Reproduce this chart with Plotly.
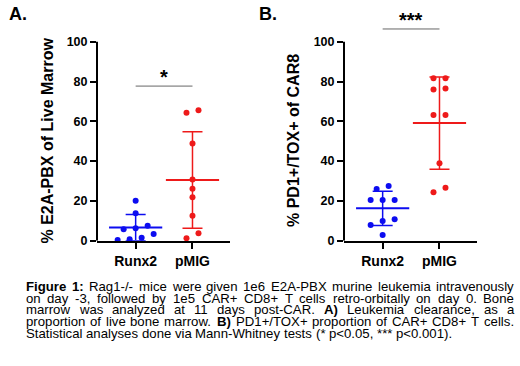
import numpy as np
import plotly.graph_objects as go

# ---------------- data ----------------
categories = ["Runx2", "pMIG"]
a_runx2 = [20.1, 13.8, 7.5, 6.2, 5.7, 3.4, 1.5, 0.7, 0.35]
a_pmig = [65.5, 64.3, 48.9, 30.7, 26.1, 21.8, 12.6, 3.7, 1.2]
b_runx2 = [27.5, 26.0, 20.5, 20.5, 20.5, 10.8, 9.9, 7.9, 2.9]
b_pmig = [81.6, 81.6, 76.5, 76.0, 63.2, 63.2, 38.9, 26.6, 24.3]
y_ticks = [0, 20, 40, 60, 80, 100]
a_title = "% E2A-PBX of Live Marrow"
b_title = "% PD1+/TOX+ of CAR8"
a_sig = "*"
b_sig = "***"
a_sig_level = 77.7
b_sig_level = 106.4
caption_lines = [
    "Figure 1: Rag1-/- mice were given 1e6 E2A-PBX murine leukemia intravenously",
    "on day -3, followed by 1e5 CAR+ CD8+ T cells retro-orbitally on day 0. Bone",
    "marrow was analyzed at 11 days post-CAR. A) Leukemia clearance, as a",
    "proportion of live bone marrow. B) PD1+/TOX+ proportion of CAR+ CD8+ T cells.",
    "Statistical analyses done via Mann-Whitney tests (* p<0.05, *** p<0.001).",
]
bold_tokens = {"Figure", "1:", "A)", "B)"}

# ---------------- style / geometry ----------------
W, H = 520, 366
BLUE = "#0c0cf0"
RED = "#ee1a1a"
FONT = "Liberation Sans, Arial, sans-serif"
XRANGE = [-0.68, 1.66]
YRANGE = [0, 118]
YDOM = [1 - 240.7 / H, 1 - 5.9 / H]
XDOM_A = [97 / W, 230 / W]
XDOM_B = [344 / W, 477 / W]

px_per_y = (YDOM[1] - YDOM[0]) * H / (YRANGE[1] - YRANGE[0])
px_per_x = (XDOM_A[1] - XDOM_A[0]) * W / (XRANGE[1] - XRANGE[0])


def swarm_offsets(vals, thresh=8.0, step=12.0):
    vals = np.asarray(vals, dtype=float)
    order = np.argsort(vals, kind="stable")
    rows = []
    for i in order:
        if rows and (vals[i] - vals[rows[-1][0]]) * px_per_y <= thresh:
            rows[-1].append(i)
        else:
            rows.append([i])
    offs = np.zeros(len(vals))
    for row in rows:
        n = len(row)
        for k, i in enumerate(row):
            offs[i] = (k - (n - 1) / 2) * step / px_per_x
    return offs


fig = go.Figure()

panels = [
    ("x", "y", [a_runx2, a_pmig]),
    ("x2", "y2", [b_runx2, b_pmig]),
]
colors = [BLUE, RED]

for xa, ya, groups in panels:
    for ci, vals in enumerate(groups):
        color = colors[ci]
        offs = swarm_offsets(vals)
        fig.add_trace(go.Scatter(
            x=ci + offs, y=vals, mode="markers",
            marker=dict(size=6, color=color),
            cliponaxis=False, xaxis=xa, yaxis=ya,
            showlegend=False, hoverinfo="skip"))
        m = float(np.mean(vals))
        sd = float(np.std(vals, ddof=1))
        fig.add_trace(go.Scatter(
            x=[ci], y=[m], mode="markers",
            marker=dict(symbol="line-ew", size=38, color=color,
                        line=dict(width=2, color=color)),
            error_y=dict(type="data", array=[sd], visible=True,
                         thickness=1.5, width=10, color=color),
            cliponaxis=True, xaxis=xa, yaxis=ya,
            showlegend=False, hoverinfo="skip"))


def xaxis_cfg(dom, anchor):
    return dict(domain=dom, range=XRANGE, anchor=anchor, automargin=False,
                tickvals=[0, 1], ticktext=categories,
                showline=True, linewidth=2, linecolor="black",
                ticks="outside", ticklen=6, tickwidth=2, tickcolor="black",
                tickfont=dict(family=FONT, size=14, color="black", weight="bold"),
                showgrid=False, zeroline=False, fixedrange=True)


def yaxis_cfg(anchor):
    return dict(domain=YDOM, range=YRANGE, anchor=anchor, automargin=False,
                tickvals=y_ticks, showline=False,
                ticks="outside", ticklen=6, tickwidth=2, tickcolor="black",
                tickfont=dict(family=FONT, size=12.5, color="black", weight="bold"),
                showgrid=False, zeroline=False, fixedrange=True)


shapes = []
annotations = []
for xa, ya, sig, lvl in [("x", "y", a_sig, a_sig_level), ("x2", "y2", b_sig, b_sig_level)]:
    # y axis line, from 0 up to the last tick only
    shapes.append(dict(type="line", xref=xa + " domain", yref=ya,
                       x0=0, x1=0, y0=y_ticks[0], y1=y_ticks[-1],
                       line=dict(color="black", width=2)))
    # significance bar
    shapes.append(dict(type="line", xref=xa, yref=ya, x0=0, x1=1, y0=lvl, y1=lvl,
                       line=dict(color="#666666", width=1)))
    annotations.append(dict(xref=xa, yref=ya, x=0.5, y=lvl + 4.6, text=sig,
                            showarrow=False, xanchor="center", yanchor="middle",
                            font=dict(family=FONT, size=20, color="black", weight="bold")))

# y-axis titles
annotations.append(dict(xref="paper", yref="paper", x=46.5 / W, y=1 - 141 / H,
                        text=a_title, textangle=-90, showarrow=False,
                        xanchor="center", yanchor="middle",
                        font=dict(family=FONT, size=16, color="black", weight="bold")))
annotations.append(dict(xref="paper", yref="paper", x=293 / W, y=1 - 141 / H,
                        text=b_title, textangle=-90, showarrow=False,
                        xanchor="center", yanchor="middle",
                        font=dict(family=FONT, size=16, color="black", weight="bold")))

# panel letters
for label, xpx in [("A.", 7), ("B.", 257)]:
    annotations.append(dict(xref="paper", yref="paper", x=xpx / W, y=1 - 14.5 / H,
                            text=label, showarrow=False, xanchor="left", yanchor="middle",
                            font=dict(family=FONT, size=18, color="black", weight="bold")))

# ---------------- justified caption ----------------
REG = {" ": 278, "(": 333, ")": 333, "*": 389, "+": 584, ",": 278, "-": 333, ".": 278,
       "/": 278, ":": 278, "<": 584,
       "A": 667, "B": 667, "C": 722, "D": 722, "E": 667, "F": 611, "G": 778, "H": 722,
       "I": 278, "J": 500, "K": 667, "L": 556, "M": 833, "N": 722, "O": 778, "P": 667,
       "Q": 778, "R": 722, "S": 667, "T": 611, "U": 722, "V": 667, "W": 944, "X": 667,
       "Y": 667, "Z": 611,
       "a": 556, "b": 556, "c": 500, "d": 556, "e": 556, "f": 278, "g": 556, "h": 556,
       "i": 222, "j": 222, "k": 500, "l": 222, "m": 833, "n": 556, "o": 556, "p": 556,
       "q": 556, "r": 333, "s": 500, "t": 278, "u": 556, "v": 500, "w": 722, "x": 500,
       "y": 500, "z": 500}
BOLD = {" ": 278, "(": 333, ")": 333, ":": 333, ".": 278, "-": 333,
        "A": 722, "B": 722, "F": 611,
        "e": 556, "g": 611, "i": 278, "r": 389, "u": 611}
CAP_FS = 13.2
LEFT, RIGHT = 26, 514
baseline0, line_gap = 291.0, 11.68


def word_width(w, bold):
    tbl = BOLD if bold else REG
    return sum(tbl.get(c, 556) for c in w) / 1000 * CAP_FS


for li, line in enumerate(caption_lines):
    words = line.split(" ")
    widths = [word_width(w, w in bold_tokens) for w in words]
    if li < len(caption_lines) - 1:
        gap = (RIGHT - LEFT - sum(widths)) / (len(words) - 1)
    else:
        gap = REG[" "] / 1000 * CAP_FS
    baseline = baseline0 + li * line_gap
    ymid = baseline - 0.3465 * CAP_FS
    xpos = LEFT
    for w, wd in zip(words, widths):
        txt = "<b>%s</b>" % w if w in bold_tokens else w
        annotations.append(dict(xref="paper", yref="paper", x=xpos / W, y=1 - ymid / H,
                                text=txt, showarrow=False, xanchor="left", yanchor="middle",
                                borderpad=0, borderwidth=0,
                                font=dict(family=FONT, size=CAP_FS, color="black")))
        xpos += wd + gap

fig.update_layout(
    width=W, height=H,
    margin=dict(l=0, r=0, t=0, b=0, autoexpand=False),
    paper_bgcolor="white", plot_bgcolor="white",
    xaxis=xaxis_cfg(XDOM_A, "y"),
    yaxis=yaxis_cfg("x"),
    xaxis2=xaxis_cfg(XDOM_B, "y2"),
    yaxis2=yaxis_cfg("x2"),
    shapes=shapes,
    annotations=annotations,
    showlegend=False,
)

fig.write_html(
    "out.html",
    config={"displayModeBar": False},
    post_script="document.body.style.margin='0px';document.body.style.overflow='hidden';",
)
